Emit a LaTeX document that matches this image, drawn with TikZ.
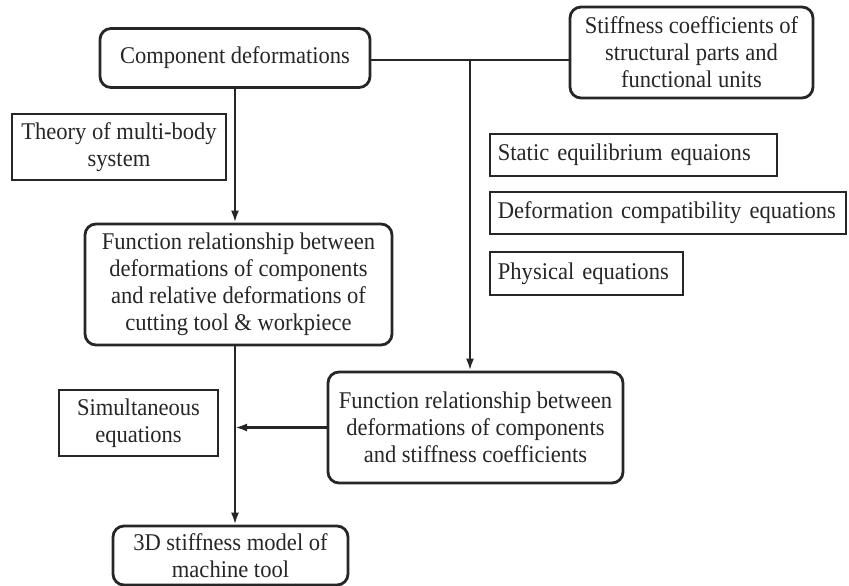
\documentclass[tikz,border=0pt]{standalone}
\usepackage{fontspec}
\setmainfont{Liberation Serif}[FakeStretch=0.94]
\usetikzlibrary{arrows.meta}
\definecolor{ink}{HTML}{262626}
\tikzset{
  x=1pt,y=-1pt,
  every node/.style={font=\fontsize{24}{27}\selectfont, text=ink, inner sep=0pt},
  rbox/.style={draw=ink, line width=2.8pt, rounded corners=11pt, align=center},
  sbox/.style={draw=ink, line width=1.8pt, align=center},
  lbox/.style={draw=ink, line width=1.8pt, align=left, anchor=west, inner xsep=8pt, text width=#1, minimum height=42pt},
  conn/.style={draw=ink, line width=2.3pt},
  arr/.style={conn, -{Latex[length=12pt,width=8pt]}}
}
\begin{document}
\begin{tikzpicture}
\useasboundingbox (0,0) rectangle (849,586);
\node[rbox, minimum width=270pt, minimum height=59pt] (comp) at (235,58) {Component deformations};
\node[rbox, minimum width=243pt, minimum height=91pt] (stiff) at (691.5,52.5) {Stiffness coefficients of\\structural parts and\\functional units};
\node[sbox, minimum width=214pt, minimum height=66pt] (theory) at (119,147) {Theory of multi-body\\system};
\node[rbox, minimum width=307pt, minimum height=121pt] (func1) at (238.5,284.5) {Function relationship between\\deformations of components\\and relative deformations of\\cutting tool \& workpiece};
\node[lbox=271pt] (static) at (489,155) {\mbox{Static equilibrium equaions}};
\node[lbox=340pt] (deform) at (489,213) {\mbox{Deformation compatibility equations}};
\node[lbox=177pt, minimum height=43pt] (phys) at (489,273.5) {\mbox{Physical equations}};
\node[rbox, minimum width=295pt, minimum height=111pt] (func2) at (475.5,427.5) {Function relationship between\\deformations of components\\and stiffness coefficients};
\node[sbox, minimum width=159pt, minimum height=66pt] (simul) at (138.5,423) {Simultaneous\\equations};
\node[rbox, minimum width=235pt, minimum height=59pt] (model) at (230.5,555.5) {3D stiffness model of\\machine tool};

\coordinate (br) at (470,60);
\draw[conn] (comp.east |- br) -- (stiff.west |- br);
\draw[arr] (br) -- (br |- func2.north);
\draw[arr] (comp.south) -- (comp.south |- func1.north);
\draw[arr] (func1.south -| comp.south) -- (model.north -| comp.south);
\draw[arr] (func2.west) -- (func2.west -| comp.south);
\end{tikzpicture}
\end{document}
